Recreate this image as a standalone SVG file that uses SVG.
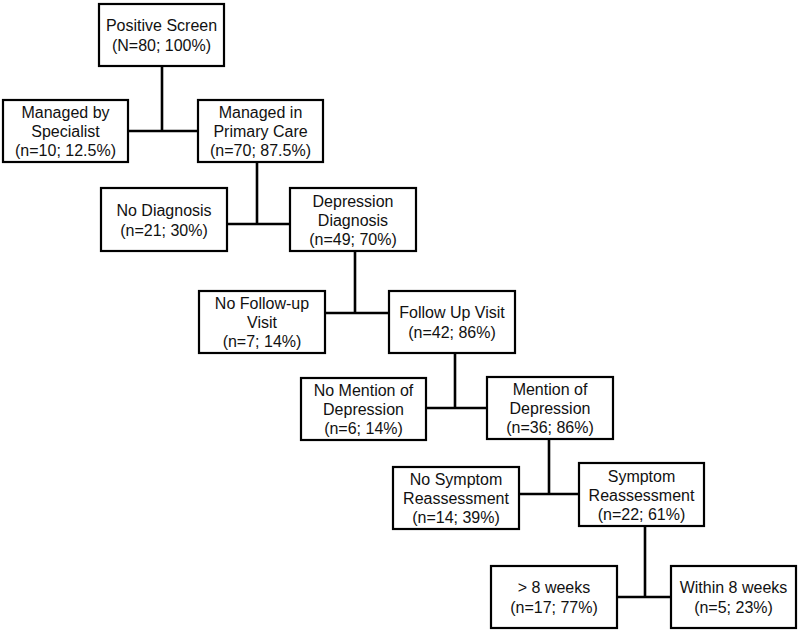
<svg xmlns="http://www.w3.org/2000/svg" width="800" height="632" viewBox="0 0 800 632">
<style>
.box{fill:#fff;stroke:#000;stroke-width:2.2}
.t{font-family:"Liberation Sans",Arial,sans-serif;font-size:16px;fill:#111;text-anchor:middle}
.c{stroke:#000;stroke-width:2.6;fill:none}
</style>
<rect width="800" height="632" fill="#fff"/>
<g id="connectors">
<path class="c" d="M162,66V131M128,131H198"/>
<path class="c" d="M257,162V224M227,224H290"/>
<path class="c" d="M355,251V313M325,313H389"/>
<path class="c" d="M455,353V408M426,408H487"/>
<path class="c" d="M549,439V494M519,494H579"/>
<path class="c" d="M645,526V597M617,597H671"/>
</g>
<g id="n1"><rect class="box" x="99" y="4" width="125" height="62"/><text class="t" x="161.5" y="31">Positive Screen</text><text class="t" x="161.5" y="51">(N=80; 100%)</text></g>
<g id="n2"><rect class="box" x="3" y="100" width="125" height="62"/><text class="t" x="65.5" y="118">Managed by</text><text class="t" x="65.5" y="137">Specialist</text><text class="t" x="65.5" y="156">(n=10; 12.5%)</text></g>
<g id="n3"><rect class="box" x="198" y="100" width="125" height="62"/><text class="t" x="260.5" y="118">Managed in</text><text class="t" x="260.5" y="137">Primary Care</text><text class="t" x="260.5" y="156">(n=70; 87.5%)</text></g>
<g id="n4"><rect class="box" x="101" y="188" width="126" height="63"/><text class="t" x="164" y="215.5">No Diagnosis</text><text class="t" x="164" y="235.5">(n=21; 30%)</text></g>
<g id="n5"><rect class="box" x="290" y="188" width="126" height="63"/><text class="t" x="353" y="206.5">Depression</text><text class="t" x="353" y="225.5">Diagnosis</text><text class="t" x="353" y="244.5">(n=49; 70%)</text></g>
<g id="n6"><rect class="box" x="199" y="291" width="126" height="62"/><text class="t" x="262" y="309">No Follow-up</text><text class="t" x="262" y="328">Visit</text><text class="t" x="262" y="347">(n=7; 14%)</text></g>
<g id="n7"><rect class="box" x="389" y="291" width="126" height="62"/><text class="t" x="452" y="318">Follow Up Visit</text><text class="t" x="452" y="338">(n=42; 86%)</text></g>
<g id="n8"><rect class="box" x="301" y="378" width="125" height="62"/><text class="t" x="363.5" y="396">No Mention of</text><text class="t" x="363.5" y="415">Depression</text><text class="t" x="363.5" y="434">(n=6; 14%)</text></g>
<g id="n9"><rect class="box" x="487" y="377" width="126" height="62"/><text class="t" x="550" y="395">Mention of</text><text class="t" x="550" y="414">Depression</text><text class="t" x="550" y="433">(n=36; 86%)</text></g>
<g id="n10"><rect class="box" x="393" y="467" width="126" height="62"/><text class="t" x="456" y="485">No Symptom</text><text class="t" x="456" y="504">Reassessment</text><text class="t" x="456" y="523">(n=14; 39%)</text></g>
<g id="n11"><rect class="box" x="579" y="463" width="125" height="63"/><text class="t" x="641.5" y="481.5">Symptom</text><text class="t" x="641.5" y="500.5">Reassessment</text><text class="t" x="641.5" y="519.5">(n=22; 61%)</text></g>
<g id="n12"><rect class="box" x="491" y="566" width="126" height="62"/><text class="t" x="554" y="593">&gt; 8 weeks</text><text class="t" x="554" y="613">(n=17; 77%)</text></g>
<g id="n13"><rect class="box" x="671" y="566" width="125" height="62"/><text class="t" x="733.5" y="593">Within 8 weeks</text><text class="t" x="733.5" y="613">(n=5; 23%)</text></g>
</svg>
